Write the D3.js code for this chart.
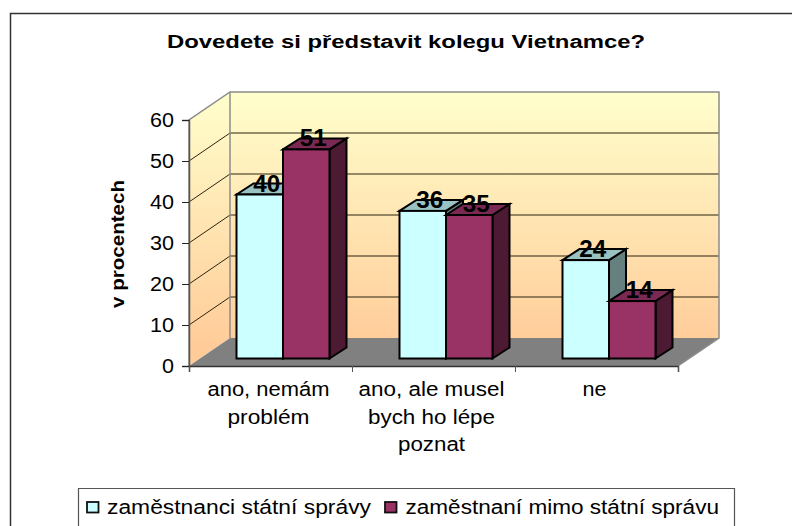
<!DOCTYPE html>
<html><head><meta charset="utf-8">
<style>html,body{margin:0;padding:0;background:#fff}svg{display:block}text{font-family:"Liberation Sans",Arial,sans-serif;fill:#000}</style>
<script src="https://cdn.jsdelivr.net/npm/d3@7"></script></head><body><script>
const title="Dovedete si představit kolegu Vietnamce?";
const yTitle="v procentech";
const categories=[["ano, nemám","problém"],["ano, ale musel","bych ho lépe","poznat"],["ne"]];
const seriesNames=["zaměstnanci státní správy","zaměstnaní mimo státní správu"];
const staff=[40,36,24];
const other=[51,35,14];
const yTicks=[0,10,20,30,40,50,60];
const W=792,H=526;
const svg=d3.select("body").append("svg").attr("width",W).attr("height",H);
const y=d3.scaleLinear().domain([0,60]).range([366,120]);
const x=d3.scaleBand().domain(d3.range(categories.length)).range([189,678]);
const dx=41,dy=-28;
const fills=[{f:"#CCFFFF",t:"#99C2C2",s:"#668080"},{f:"#993366",t:"#7A2952",s:"#4D1A33"}];
const defs=svg.append("defs");
const g=defs.append("linearGradient").attr("id","wall").attr("gradientUnits","userSpaceOnUse").attr("x1",0).attr("x2",0).attr("y1",93).attr("y2",345);
g.append("stop").attr("offset",0).attr("stop-color","#FFFFCC");
g.append("stop").attr("offset",1).attr("stop-color","#FFCC99");
const poly=pts=>pts.map(p=>p.join(",")).join(" ");
const fit=(sel,len)=>sel.attr("textLength",len).attr("lengthAdjust","spacingAndGlyphs");
svg.append("path").attr("d",`M10.5,${H} V13.5 H${W}`).attr("fill","none").attr("stroke","#333").attr("stroke-width",1.5);
fit(svg.append("text").attr("x",167).attr("y",48).attr("font-size",18).attr("font-weight","bold").text(title),478);
const x0=x.range()[0],x1=x.range()[1],yb=y(0),yt=y(60);
svg.append("polygon").attr("points",poly([[x0,yb],[x0,yt],[x0+dx,yt+dy],[x0+dx,yb+dy]])).attr("fill","url(#wall)");
svg.append("polygon").attr("points",poly([[x0+dx,yb+dy],[x0+dx,yt+dy],[x1+dx,yt+dy],[x1+dx,yb+dy]])).attr("fill","url(#wall)");
svg.append("polygon").attr("points",poly([[x0,yb],[x0+dx,yb+dy],[x1+dx,yb+dy],[x1,yb]])).attr("fill","#808080");
yTicks.filter(t=>t>0&&t<60).forEach(t=>{
  svg.append("path").attr("d",`M${x0},${y(t)} L${x0+dx},${y(t)+dy} H${x1+dx}`).attr("fill","none").attr("stroke","#2b2510").attr("stroke-width",1);
});
svg.append("path").attr("d",`M${x0},${yb} V${yt} L${x0+dx},${yt+dy} H${x1+dx} V${yb+dy} L${x1},${yb}`).attr("fill","none").attr("stroke","#8c8c8c").attr("stroke-width",1.5);
svg.append("path").attr("d",`M${x0+dx},${yt+dy} V${yb+dy}`).attr("fill","none").attr("stroke","#8c8c8c").attr("stroke-width",1.5);
const ya=svg.append("g").attr("transform",`translate(${x0},0)`).call(d3.axisLeft(y).tickValues(yTicks).tickSize(7).tickPadding(8));
ya.select(".domain").attr("stroke","#555").attr("stroke-width",1.5);
ya.selectAll("text").attr("font-size",19.5).style("font-family",'"Liberation Sans",Arial,sans-serif').attr("fill","#000")
  .attr("textLength",d=>String(d).length*12).attr("lengthAdjust","spacingAndGlyphs");
ya.selectAll("line").attr("stroke","#222");
const xTickVals=[...x.domain().map(d=>x(d)),x1];
const xs=d3.scaleLinear().domain([x0,x1]).range([x0,x1]);
const xa=svg.append("g").attr("transform",`translate(0,${yb})`).call(d3.axisBottom(xs).tickValues(xTickVals).tickSize(6).tickFormat(""));
xa.select(".domain").attr("stroke","#333").attr("stroke-width",1.5);
xa.selectAll("line").attr("stroke","#555");
const ox=10,oy=-7.5,bw=46.5,gap=37.5,bx=17,by=-11;
const baseY=yb+oy;
const labels=[];
categories.forEach((c,i)=>{
  [staff,other].forEach((vals,j)=>{
    const v=vals[i],l=x(i)+ox+gap+j*bw,r=l+bw,t=y(v)+oy,c2=fills[j];
    const gb=svg.append("g").attr("stroke","#000").attr("stroke-width",2).attr("stroke-linejoin","miter");
    gb.append("polygon").attr("points",poly([[r,t],[r+bx,t+by],[r+bx,baseY+by],[r,baseY]])).attr("fill",c2.s);
    gb.append("polygon").attr("points",poly([[l,t],[l+bx,t+by],[r+bx,t+by],[r,t]])).attr("fill",c2.t);
    gb.append("rect").attr("x",l).attr("y",t).attr("width",bw).attr("height",baseY-t).attr("fill",c2.f);
    labels.push({v,cx:(l+r)/2+7,t});
  });
});
labels.forEach(d=>{
  fit(svg.append("text").attr("x",d.cx).attr("y",d.t-3).attr("text-anchor","middle").attr("font-size",24).attr("font-weight","bold").text(d.v),27);
});
const catWidths=[[122,82],[146,127,67],[24]];
categories.forEach((c,i)=>{
  c.forEach((ln,k)=>{
    fit(svg.append("text").attr("x",x(i)+x.bandwidth()/2-2).attr("y",396+k*27.5).attr("text-anchor","middle").attr("font-size",19.5).text(ln),catWidths[i][k]);
  });
});
fit(svg.append("text").attr("transform","translate(124,244) rotate(-90)").attr("text-anchor","middle").attr("font-size",18).attr("font-weight","bold").text(yTitle),128);
svg.append("path").attr("d",`M78.5,${H} V488.5 H734.5 V${H}`).attr("fill","none").attr("stroke","#555").attr("stroke-width",1.2);
const legX=[[86,107,264],[384,405.5,313.5]];
seriesNames.forEach((n,j)=>{
  svg.append("rect").attr("x",legX[j][0]+1).attr("y",502).attr("width",11.5).attr("height",10.5).attr("fill",fills[j].f).attr("stroke","#111").attr("stroke-width",1.8);
  fit(svg.append("text").attr("x",legX[j][1]).attr("y",513.5).attr("font-size",19.5).text(n),legX[j][2]);
});
</script></body></html>
